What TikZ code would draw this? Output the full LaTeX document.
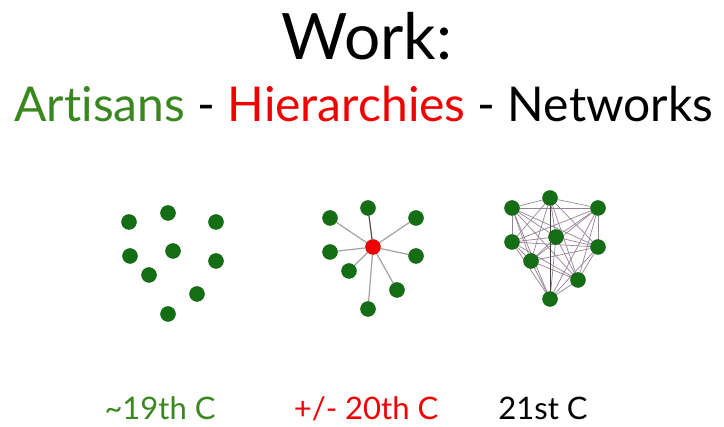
\documentclass[tikz,border=0pt]{standalone}
\usepackage{fontspec}
\setmainfont[Ligatures=NoCommon]{Lato}
\usetikzlibrary{backgrounds}
\definecolor{txtgreen}{RGB}{58,135,32}
\definecolor{dotgreen}{RGB}{20,110,20}
\definecolor{hubred}{RGB}{240,0,0}
\definecolor{edgegray}{RGB}{165,160,160}
\definecolor{netedge}{RGB}{150,130,150}
\tikzset{
  dot/.style={circle,fill=dotgreen,draw=dotgreen!80!black,line width=0.4pt,minimum size=15pt,inner sep=0pt},
  hub/.style={dot,fill=hubred,draw=hubred!85!black},
  spoke/.style={draw=edgegray,line width=1.2pt},
  link/.style={draw=netedge,line width=0.7pt},
  title/.style={inner sep=0pt,font=\fontsize{64}{70}\selectfont},
  subtitle/.style={inner sep=0pt,font=\fontsize{48}{54}\selectfont},
  era/.style={inner sep=0pt,font=\fontsize{31}{35}\selectfont}
}
\begin{document}
\begin{tikzpicture}[x=1pt,y=-1pt]
\useasboundingbox (0,0) rectangle (724,427);
% titles
\node[title,anchor=base] (work) at (367,60) {Work:};
\node[subtitle,anchor=base] (sub) at (364,122) {\textcolor{txtgreen}{Artisans} - \textcolor{hubred}{Hierarchies} - Networks};
% panel 1: artisans
\node[dot] (a1) at (129,222) {};
\node[dot] (a2) at (168,213) {};
\node[dot] (a3) at (216,222) {};
\node[dot] (a4) at (130,256) {};
\node[dot] (a5) at (173,251) {};
\node[dot] (a6) at (216,261) {};
\node[dot] (a7) at (149,275) {};
\node[dot] (a8) at (197,294) {};
\node[dot] (a9) at (168,314) {};
% panel 2: hierarchy
\node[hub] (h0) at (373,247) {};
\node[dot] (h1) at (368,208) {};
\node[dot] (h2) at (330,218) {};
\node[dot] (h3) at (416,218) {};
\node[dot] (h4) at (330,252) {};
\node[dot] (h5) at (416,256) {};
\node[dot] (h6) at (349,271) {};
\node[dot] (h7) at (397,290) {};
\node[dot] (h8) at (368,309) {};
\begin{scope}[on background layer]
  \draw[spoke,draw=black!70] (h0) -- (h1);
  \foreach \i in {2,...,8} { \draw[spoke] (h0) -- (h\i); }
\end{scope}
% panel 3: network
\node[dot] (n1) at (550,198) {};
\node[dot] (n2) at (512,208) {};
\node[dot] (n3) at (598,208) {};
\node[dot] (n4) at (512,242) {};
\node[dot] (n5) at (556,237) {};
\node[dot] (n6) at (598,247) {};
\node[dot] (n7) at (531,261) {};
\node[dot] (n8) at (578,280) {};
\node[dot] (n9) at (550,299) {};
\begin{scope}[on background layer]
  \foreach \i in {1,...,8} {
    \pgfmathtruncatemacro{\s}{\i+1}
    \foreach \j in {\s,...,9} { \draw[link] (n\i) -- (n\j); }
  }
  \draw[link,draw=black!75] (n1) -- (n9);
\end{scope}
% era labels
\node[era,anchor=base,text=txtgreen] (e1) at (160,420) {\textasciitilde 19th C};
\node[era,anchor=base,text=hubred] (e2) at (366,420) {+/- 20th C};
\node[era,anchor=base] (e3) at (543,420) {21st C};
\end{tikzpicture}
\end{document}
